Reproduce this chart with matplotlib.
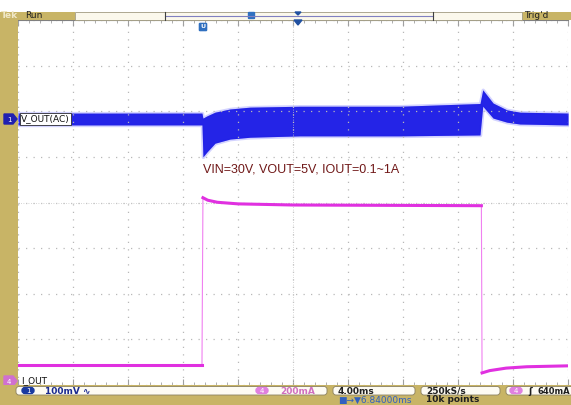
import numpy as np
import matplotlib.pyplot as plt
from matplotlib.patches import Rectangle, FancyBboxPatch, Polygon

# ---- data ----
# time axis: 4 ms/div, 10 div
t_vout = [0.0, 13.38, 13.45, 13.75, 14.33, 15.42, 16.87, 20.5, 27.8, 33.6,
          33.8, 34.55, 35.56, 36.5, 40.0]
vout_top = [13, 13, 2, 7, 15, 22, 26, 28, 28, 34, 64, 35, 20, 15, 13]       # mV (AC)
vout_bot = [-13, -13, -83, -72, -53, -44, -40, -37, -37, -35, 28, 2, -7, -11, -13]

t_iout = [0.0, 13.38, 13.45, 13.8, 14.5, 16.0, 20.0, 33.7, 33.75, 34.3, 35.5, 37.0, 40.0]
iout = [70, 70, 803, 792, 783, 776, 771, 768, 35, 45, 56, 62, 66]            # mA

ch1_scale = 100.0   # mV/div
ch4_scale = 200.0   # mA/div
ch1_offset = 1.83   # div
ch4_offset = -3.91  # div

W, H = 571, 405
GOLD = '#c8b466'
BLUE = '#1414e6'
MAG = '#e030e0'

fig = plt.figure(figsize=(W / 100, H / 100), dpi=100)
fig.patch.set_facecolor('white')

# ---- scope graticule ----
ax = fig.add_axes([18 / W, 20 / H, 550 / W, 365 / H])
ax.set_xlim(0, 40)
ax.set_ylim(-4, 4)
ax.set_xticks(np.arange(0, 41, 4))
ax.set_yticks(np.arange(-4, 5, 1))
ax.set_xticks(np.arange(0, 40.1, 0.8), minor=True)
ax.set_yticks(np.arange(-4, 4.01, 0.2), minor=True)
ax.tick_params(which='both', direction='in', top=True, right=False, left=False,
               bottom=True, labelbottom=False, labelleft=False, color='#a0a0a0')
ax.tick_params(which='major', length=4)
ax.tick_params(which='minor', length=2)
ax.grid(True, which='major', linestyle=(0, (1, 5)), color='#b8b8b8', lw=0.9)
ax.axvline(20, color='#c8c8c8', lw=0.6, linestyle=(0, (1, 2)))
ax.axhline(0, color='#c8c8c8', lw=0.6, linestyle=(0, (1, 2)))
for s in ['left', 'right', 'bottom']:
    ax.spines[s].set_visible(False)
ax.spines['top'].set_color('#808080')

# channel 1 (blue ripple band)
vt = np.array(vout_top) / ch1_scale + ch1_offset
vb = np.array(vout_bot) / ch1_scale + ch1_offset
ax.fill_between(t_vout, vb, vt, color=BLUE, alpha=0.3, lw=2.5, edgecolor='#7070ff')
ax.fill_between(t_vout, vb, vt, color=BLUE, alpha=0.9, lw=0)

# channel 4 (magenta current)
iy = np.array(iout) / ch4_scale + ch4_offset
ax.plot(t_iout, iy, color='#f080f0', lw=0.8)
ax.plot(t_iout[:2], iy[:2], color=MAG, lw=2.2)
ax.plot(t_iout[2:8], iy[2:8], color=MAG, lw=2.2)
ax.plot(t_iout[8:], iy[8:], color=MAG, lw=2.2)

ax.text(13.45, 0.72, 'VIN=30V, VOUT=5V, IOUT=0.1~1A', color='#701818',
        fontsize=9, family='Liberation Sans', va='center', ha='left')

# ---- screen decorations (pixel overlay) ----
ov = fig.add_axes([0, 0, 1, 1])
ov.set_xlim(0, W)
ov.set_ylim(H, 0)
ov.axis('off')
ov.patch.set_alpha(0)

ov.add_patch(Rectangle((0, 12), 18, 373, color=GOLD, lw=0))
ov.add_patch(Rectangle((0, 12), 75, 8, color=GOLD, lw=0))
ov.add_patch(Rectangle((522, 12), 49, 8, color=GOLD, lw=0))
ov.add_patch(Rectangle((75, 12), 447, 8, facecolor='#fbf8ec', edgecolor='#a09a80', lw=0.6))
ov.plot([165, 433], [15.5, 15.5], color='#8080c0', lw=0.8)
ov.plot([165, 165], [12, 20], color='#404040', lw=0.8)
ov.plot([433, 433], [12, 20], color='#404040', lw=0.8)
ov.text(1, 16, 'Tek', color='#f0e8c8', fontsize=6.5, fontweight='bold', va='center')
ov.text(25, 16, 'Run', color='#202020', fontsize=6.5, va='center')
ov.text(524, 16, "Trig'd", color='#202020', fontsize=6.5, va='center')
ov.add_patch(FancyBboxPatch((249, 13), 5, 5, boxstyle='round,pad=0.5', color='#3070c0'))
ov.add_patch(Polygon([[295, 12], [301, 12], [298, 15]], color='#2050a0'))
ov.add_patch(Polygon([[294, 20], [302, 20], [298, 25]], color='#2050a0'))
ov.add_patch(FancyBboxPatch((200, 24), 6, 6, boxstyle='round,pad=0.6', color='#3070c0'))
ov.text(203, 27, 'U', color='white', fontsize=4.5, ha='center', va='center', fontweight='bold')

# channel markers on the left
ov.add_patch(Polygon([[4, 114], [13, 114], [17, 119], [13, 124], [4, 124]], color='#2020b0'))
ov.text(9, 119.5, '1', color='white', fontsize=5, ha='center', va='center')
ov.text(21, 119, 'V_OUT(AC)', fontsize=6.5, va='center', color='#101010',
        bbox=dict(boxstyle='square,pad=0.15', fc='white', ec='#303030', lw=0.6))
ov.add_patch(Polygon([[4, 376], [13, 376], [17, 381], [13, 386], [4, 386]], color='#d070d0'))
ov.text(9, 381.5, '4', color='white', fontsize=5, ha='center', va='center')
ov.text(21, 381, 'I_OUT', fontsize=6.5, va='center', color='#101010')

# bottom status bar
ov.add_patch(Rectangle((0, 385), W, 20, color=GOLD, lw=0))
for x0, x1 in [(16, 327), (333, 415), (421, 500), (506, 575)]:
    ov.add_patch(FancyBboxPatch((x0, 386.5), x1 - x0, 8.5, boxstyle='round,pad=0,rounding_size=3',
                                fc='#fdfbf3', ec='#8a8060', lw=0.6))
ov.add_patch(FancyBboxPatch((22, 387.5), 12, 6, boxstyle='round,pad=0,rounding_size=3', color='#1a3aa0'))
ov.text(28, 390.7, '1', color='white', fontsize=5, ha='center', va='center')
ov.text(45, 391, '100mV \u223f', color='#1a2a90', fontsize=6.5, va='center', fontweight='bold')
ov.add_patch(FancyBboxPatch((256, 387.5), 12, 6, boxstyle='round,pad=0,rounding_size=3', color='#e080e0'))
ov.text(262, 390.7, '4', color='white', fontsize=5, ha='center', va='center')
ov.text(280, 391, '200mA', color='#d070c0', fontsize=6.5, va='center', fontweight='bold')
ov.text(338, 391, '4.00ms', color='#202020', fontsize=6.5, va='center', fontweight='bold')
ov.text(338, 400, '\u25a0\u2192\u25bc6.84000ms', color='#3060c0', fontsize=6.5, va='center')
ov.text(426, 391, '250kS/s', color='#202020', fontsize=6.5, va='center', fontweight='bold')
ov.text(426, 400, '10k points', color='#202020', fontsize=6.5, va='center', fontweight='bold')
ov.add_patch(FancyBboxPatch((510, 387.5), 12, 6, boxstyle='round,pad=0,rounding_size=3', color='#e080e0'))
ov.text(516, 390.7, '4', color='white', fontsize=5, ha='center', va='center')
ov.text(528, 391, '\u0283', color='#202020', fontsize=6.5, va='center', fontweight='bold')
ov.text(537, 391, '640mA', color='#202020', fontsize=6, va='center', fontweight='bold')

fig.savefig('out.png', dpi=100)
